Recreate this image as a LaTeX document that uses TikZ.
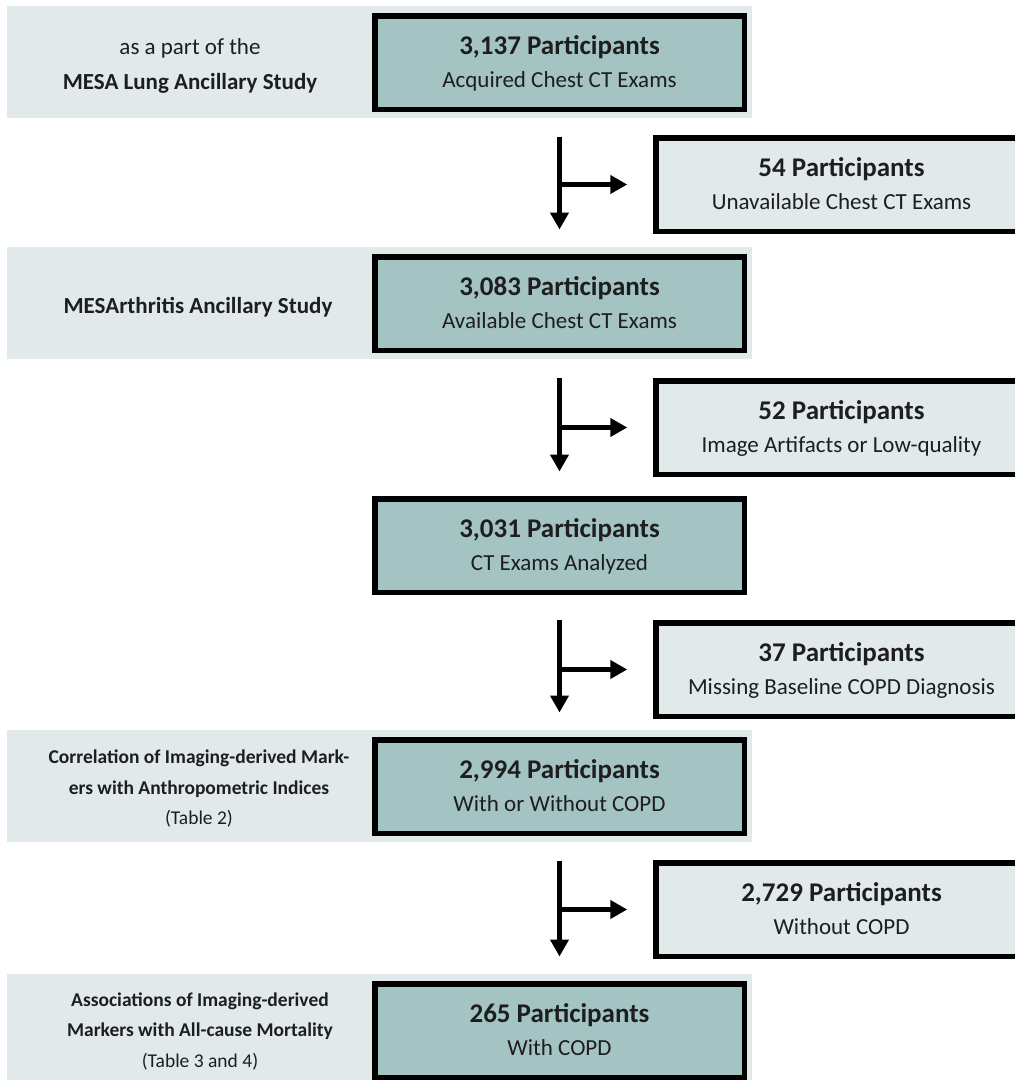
\documentclass[tikz,border=0pt]{standalone}
\usepackage{fontspec}
\setmainfont{Carlito}
\usetikzlibrary{arrows.meta}
\definecolor{mainfill}{HTML}{A4C3C3}
\definecolor{bandfill}{HTML}{E1E9EA}
\definecolor{txt}{HTML}{1E1E1E}
\newcommand\boxtext[2]{\rule{0pt}{17pt}\smash{\fontsize{27}{33}\selectfont\bfseries #1}\\\smash{#2}}
\begin{document}
\begin{tikzpicture}[x=1pt,y=-1pt,
  band/.style={fill=bandfill, draw=none, minimum width=745pt, minimum height=112pt, inner sep=0pt},
  mainbox/.style={draw=black, line width=5.5pt, fill=mainfill, minimum width=369.5pt, minimum height=93.5pt, inner sep=0pt, align=center, text=txt, font=\fontsize{23}{33}\selectfont},
  sidebox/.style={mainbox, fill=bandfill, minimum width=371.5pt},
  lefttext/.style={align=center, inner sep=0pt, text=txt},
  bigleft/.style={lefttext, font=\fontsize{23}{35}\selectfont},
  smallleft/.style={lefttext, font=\fontsize{19.5}{30.5}\selectfont},
  flow/.style={line width=5pt, -{Triangle[width=18pt,length=17pt]}},
  down/.style={flow, shorten <=24.5pt, shorten >=24.5pt},
  side/.style={flow, shorten >=25.75pt},
]
\useasboundingbox (0,0) rectangle (1015,1080);
% bands
\node[band] (b1) at (379.5,62) {};
\node[band] (b2) at (379.5,303) {};
\node[band] (b4) at (379.5,786) {};
\node[band] (b5) at (379.5,1030) {};
% main boxes
\node[mainbox] (m1) at (559.5,62.5) {\boxtext{3,137 Participants}{Acquired Chest CT Exams}};
\node[mainbox] (m2) at (559.5,303.5) {\boxtext{3,083 Participants}{Available Chest CT Exams}};
\node[mainbox] (m3) at (559.5,545.5) {\boxtext{3,031 Participants}{CT Exams Analyzed}};
\node[mainbox] (m4) at (559.5,786.5) {\boxtext{2,994 Participants}{With or Without COPD}};
\node[mainbox] (m5) at (559.5,1030.5) {\boxtext{265 Participants}{With COPD}};
% side boxes
\node[sidebox] (s1) at (841.5,184.5) {\boxtext{54 Participants}{Unavailable Chest CT Exams}};
\node[sidebox] (s2) at (841.5,427.5) {\boxtext{52 Participants}{Image Artifacts or Low-quality}};
\node[sidebox] (s3) at (841.5,669.5) {\boxtext{37 Participants}{Missing Baseline COPD Diagnosis}};
\node[sidebox] (s4) at (841.5,909.5) {\boxtext{2,729 Participants}{Without COPD}};
% left texts
\node[bigleft] (l1) at (190,64) {\rule{0pt}{16pt}\smash{as a part of the}\\\smash{\bfseries MESA Lung Ancillary Study}};
\node[bigleft] (l2) at (198,305) {\rule{0pt}{16pt}\smash{\bfseries MESArthritis Ancillary Study}};
\node[smallleft] (l4) at (199,787.5) {\rule{0pt}{13pt}\smash{\bfseries Correlation of Imaging-derived Mark-}\\\smash{\bfseries ers with Anthropometric Indices}\\\smash{(Table 2)}};
\node[smallleft] (l5) at (200,1030) {\rule{0pt}{13pt}\smash{\bfseries Associations of Imaging-derived}\\\smash{\bfseries Markers with All-cause Mortality}\\\smash{(Table 3 and 4)}};
% connectors
\draw[down] (m1) -- (m2);
\draw[down] (m2) -- (m3);
\draw[down] (m3) -- (m4);
\draw[down] (m4) -- (m5);
\draw[side] (m1.south |- s1.west) -- (s1.west);
\draw[side] (m2.south |- s2.west) -- (s2.west);
\draw[side] (m3.south |- s3.west) -- (s3.west);
\draw[side] (m4.south |- s4.west) -- (s4.west);
\end{tikzpicture}
\end{document}
